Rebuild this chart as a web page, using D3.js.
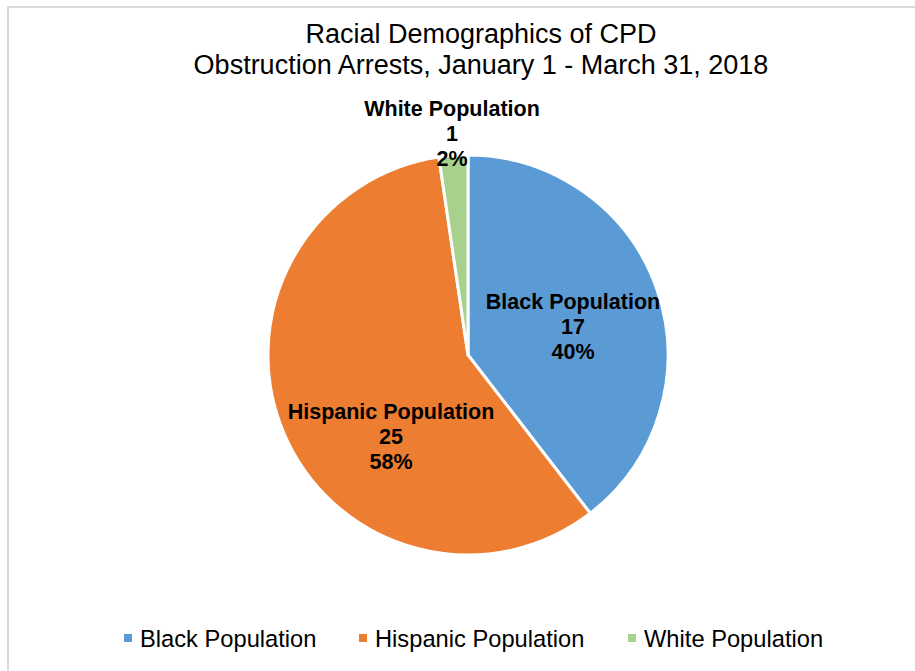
<!DOCTYPE html>
<html>
<head>
<meta charset="utf-8">
<script src="https://cdn.jsdelivr.net/npm/d3@7"></script>
<style>
  html, body { margin: 0; padding: 0; background: #fff; }
  svg { display: block; font-family: "Liberation Sans", Arial, sans-serif; }
</style>
</head>
<body>
<svg id="chart" width="915" height="671"></svg>
<script>
// Arrest counts by group, Jan 1 - Mar 31, 2018
const categories = ["Black Population", "Hispanic Population", "White Population"];
const arrests = [17, 25, 1];
const colors = ["#5B9BD5", "#ED7D31", "#A9D18E"];
const titleLines = ["Racial Demographics of CPD", "Obstruction Arrests, January 1 - March 31, 2018"];

const svg = d3.select("#chart");
const W = 915, H = 671;

// chart area frame
svg.append("rect")
  .attr("x", 8).attr("y", 7)
  .attr("width", W + 10).attr("height", H + 10)
  .attr("fill", "#fff")
  .attr("stroke", "#d9d9d9").attr("stroke-width", 2);

// title
svg.append("g").selectAll("text")
  .data(titleLines).join("text")
  .attr("x", 481).attr("y", (d, i) => 43 + i * 31)
  .attr("text-anchor", "middle")
  .attr("font-size", 27).attr("fill", "#000")
  .text(d => d);

const cx = 468, cy = 355, r = 200;
const total = d3.sum(arrests);
const data = categories.map((c, i) => ({ name: c, value: arrests[i], color: colors[i] }));

const pie = d3.pie().value(d => d.value).sort(null);
const arcs = pie(data);
const arc = d3.arc().innerRadius(0).outerRadius(r);

const g = svg.append("g").attr("transform", `translate(${cx},${cy})`);
g.selectAll("path").data(arcs).join("path")
  .attr("d", arc)
  .attr("fill", d => d.data.color)
  .attr("stroke", "#fff").attr("stroke-width", 3)
  .attr("stroke-linejoin", "round");

// data labels (name, count, percent), anchored relative to the pie centre
const labelAnchor = [[105, -29], [-77, 81], [-16, -222]];
const lineH = 25;
const labelSize = 21.5;
arcs.forEach((a, i) => {
  const [px, py] = labelAnchor[i];
  const pct = Math.round(a.data.value / total * 100) + "%";
  const lines = [a.data.name, String(a.data.value), pct];
  g.append("g").selectAll("text").data(lines).join("text")
    .attr("x", px)
    .attr("y", (d, k) => py + (k - 1) * lineH + labelSize * 0.36)
    .attr("text-anchor", "middle")
    .attr("font-size", labelSize).attr("font-weight", "bold")
    .attr("fill", "#000")
    .text(d => d);
});

// legend
const legendX = [124, 359, 628];
const legend = svg.append("g");
data.forEach((d, i) => {
  legend.append("rect")
    .attr("x", legendX[i]).attr("y", 634)
    .attr("width", 8).attr("height", 8)
    .attr("fill", d.color);
  legend.append("text")
    .attr("x", legendX[i] + 16).attr("y", 646.5)
    .attr("font-size", 23.7).attr("fill", "#000")
    .text(d.name);
});
</script>
</body>
</html>
